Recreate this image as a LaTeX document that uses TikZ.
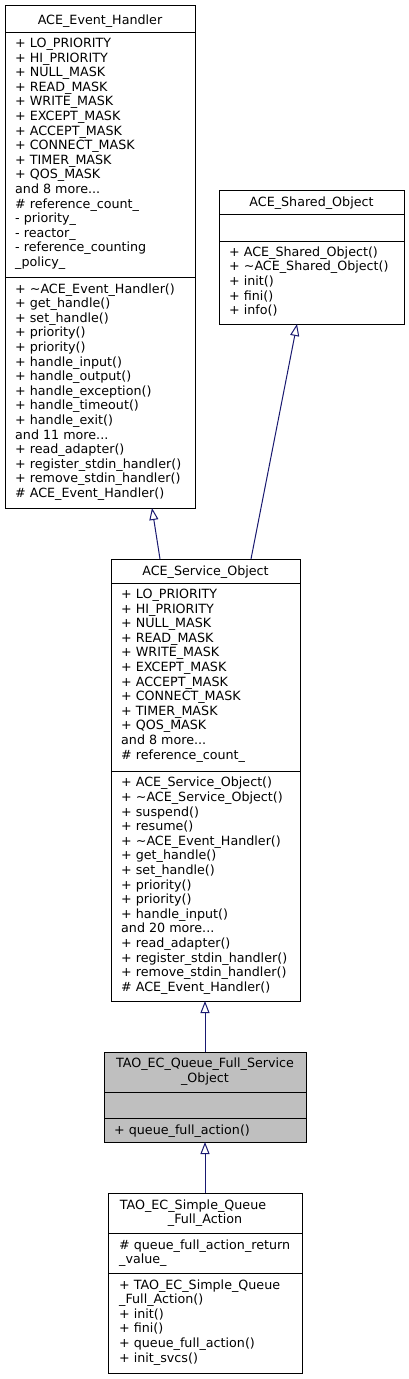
\documentclass[tikz,border=0pt]{standalone}
\usepackage{fontspec}
\setmainfont{DejaVu Sans}
\usepackage{xcolor}
\usepackage{tikz}
\usetikzlibrary{arrows.meta}
\usetikzlibrary{calc}
\definecolor{edgeblue}{HTML}{191970}
\definecolor{focusgray}{HTML}{BFBFBF}
\begin{document}
\begin{tikzpicture}[
  x=1pt,y=-1pt,
  font=\fontsize{12.7}{14.6}\selectfont,
  classbox/.style={draw,line width=1pt,anchor=north west,inner sep=0pt,outer sep=0pt,fill=white},
  focus/.style={classbox,fill=focusgray},
  title/.style={anchor=north,align=center,inner sep=0pt,execute at begin node=\strut},
  members/.style={anchor=north west,align=left,inner sep=0pt,execute at begin node=\strut},
  sep/.style={line width=1pt},
  inherit/.style={-{Triangle[open,length=12pt,width=9pt]},line width=1pt,draw=edgeblue}]

  \fill[white] (0,0) rectangle (409,1379);
  \useasboundingbox (0,0) rectangle (409,1379);

  % The class boxes
  \node[classbox,minimum width=190,minimum height=503] (eh) at (5,5) {};
  \node[classbox,minimum width=185,minimum height=134] (so) at (219,190) {};
  \node[classbox,minimum width=189,minimum height=442] (sv) at (111,559) {};
  \node[focus,minimum width=202,minimum height=90] (qf) at (104,1052) {};
  \node[classbox,minimum width=194,minimum height=180] (sq) at (108,1193) {};

  % Compartment lines
  \draw[sep] (5,32) -- (195,32) (5,277.5) -- (195,277.5);
  \draw[sep] (219,214) -- (404,214) (219,241) -- (404,241);
  \draw[sep] (111,583) -- (300,583) (111,771) -- (300,771);
  \draw[sep] (104,1092) -- (306,1092) (104,1118) -- (306,1118);
  \draw[sep] (108,1233) -- (302,1233) (108,1273) -- (302,1273);

  % ACE_Event_Handler
  \node[title] (eh-name) at (100,14.4) {ACE\_Event\_Handler};
  \node[members] (eh-attr) at (15,37.8) {+ LO\_PRIORITY\\+ HI\_PRIORITY\\+ NULL\_MASK\\+ READ\_MASK\\+ WRITE\_MASK\\+ EXCEPT\_MASK\\+ ACCEPT\_MASK\\+ CONNECT\_MASK\\+ TIMER\_MASK\\+ QOS\_MASK\\and 8 more...\\\# reference\_count\_\\- priority\_\\- reactor\_\\- reference\_counting\\\_policy\_};
  \node[members] (eh-ops) at (15,283.3) {+ \textasciitilde ACE\_Event\_Handler()\\+ get\_handle()\\+ set\_handle()\\+ priority()\\+ priority()\\+ handle\_input()\\+ handle\_output()\\+ handle\_exception()\\+ handle\_timeout()\\+ handle\_exit()\\and 11 more...\\+ read\_adapter()\\+ register\_stdin\_handler()\\+ remove\_stdin\_handler()\\\# ACE\_Event\_Handler()};

  % ACE_Shared_Object
  \node[title] (so-name) at (311.5,196.1) {ACE\_Shared\_Object};
  \node[members] (so-ops) at (229,246.5) {+ ACE\_Shared\_Object()\\+ \textasciitilde ACE\_Shared\_Object()\\+ init()\\+ fini()\\+ info()};

  % ACE_Service_Object
  \node[title] (sv-name) at (205.5,565.1) {ACE\_Service\_Object};
  \node[members] (sv-attr) at (121,588.8) {+ LO\_PRIORITY\\+ HI\_PRIORITY\\+ NULL\_MASK\\+ READ\_MASK\\+ WRITE\_MASK\\+ EXCEPT\_MASK\\+ ACCEPT\_MASK\\+ CONNECT\_MASK\\+ TIMER\_MASK\\+ QOS\_MASK\\and 8 more...\\\# reference\_count\_};
  \node[members] (sv-ops) at (121,777) {+ ACE\_Service\_Object()\\+ \textasciitilde ACE\_Service\_Object()\\+ suspend()\\+ resume()\\+ \textasciitilde ACE\_Event\_Handler()\\+ get\_handle()\\+ set\_handle()\\+ priority()\\+ priority()\\+ handle\_input()\\and 20 more...\\+ read\_adapter()\\+ register\_stdin\_handler()\\+ remove\_stdin\_handler()\\\# ACE\_Event\_Handler()};

  % TAO_EC_Queue_Full_Service_Object
  \node[title] (qf-name) at (205,1057.8) {TAO\_EC\_Queue\_Full\_Service\\\_Object};
  \node[members] (qf-ops) at (114,1123.6) {+ queue\_full\_action()};

  % TAO_EC_Simple_Queue_Full_Action
  \node[title] (sq-name) at (205,1199.5) {TAO\_EC\_Simple\_Queue\hspace*{24pt}\\\_Full\_Action};
  \node[members] (sq-attr) at (119,1239.5) {\# queue\_full\_action\_return\\\_value\_};
  \node[members] (sq-ops) at (119,1279.2) {+ TAO\_EC\_Simple\_Queue\\\_Full\_Action()\\+ init()\\+ fini()\\+ queue\_full\_action()\\+ init\_svcs()};

  % Inheritance arrows
  \draw[inherit] ($(sv.north west)+(49,0)$) -- ($(eh.south west)+(147,0)$);
  \draw[inherit] ($(sv.north west)+(140,0)$) -- ($(so.south west)+(78,0)$);
  \draw[inherit] (qf.north) -- (qf.north |- sv.south);
  \draw[inherit] (sq.north) -- (sq.north |- qf.south);
\end{tikzpicture}
\end{document}
